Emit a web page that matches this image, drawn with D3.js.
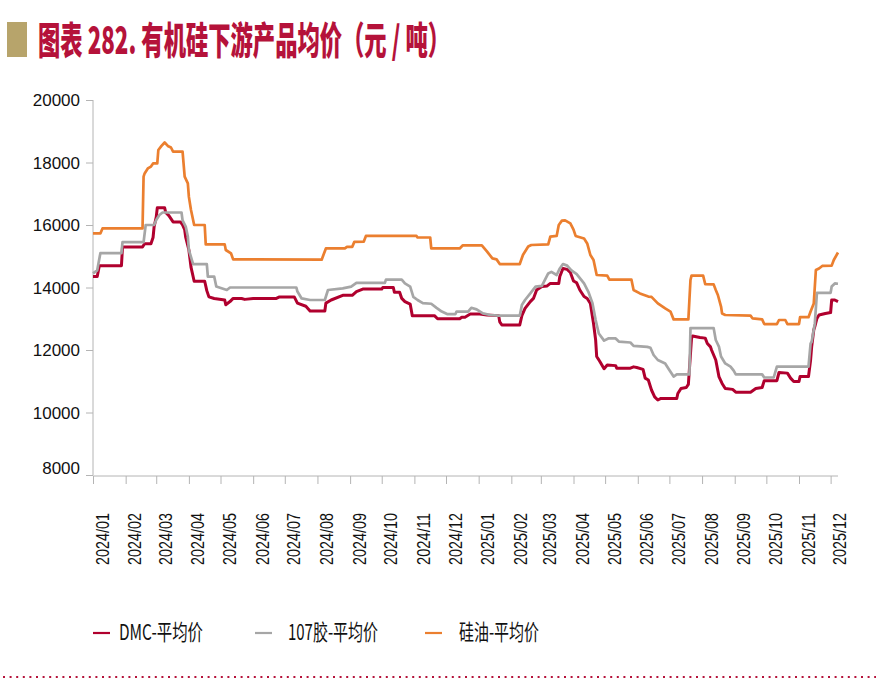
<!DOCTYPE html>
<html><head><meta charset="utf-8">
<script src="https://cdn.jsdelivr.net/npm/d3@7"></script>
<style>html,body{margin:0;padding:0;background:#fff;} svg{display:block}</style>
</head><body>
<svg id="chart" width="878" height="680"></svg>
<script>
const titleText = "图表 282. 有机硅下游产品均价（元 / 吨）";
const seriesNames = ["DMC-平均价", "107胶-平均价", "硅油-平均价"];
const monthLabels = ["2024/01","2024/02","2024/03","2024/04","2024/05","2024/06","2024/07","2024/08","2024/09","2024/10","2024/11","2024/12",
  "2025/01","2025/02","2025/03","2025/04","2025/05","2025/06","2025/07","2025/08","2025/09","2025/10","2025/11","2025/12"];
const yTicks = [8000, 10000, 12000, 14000, 16000, 18000, 20000];

// DMC-平均价
const dmcData = [
 ["2024-01-01",14350],["2024-01-05",14350],["2024-01-07",14700],["2024-01-28",14700],["2024-01-29",15300],
 ["2024-02-17",15300],["2024-02-19",15400],["2024-02-25",15400],["2024-02-27",15600],["2024-02-28",15950],
 ["2024-03-01",16250],["2024-03-02",16550],["2024-03-09",16550],["2024-03-10",16400],["2024-03-13",16300],
 ["2024-03-17",16100],["2024-03-24",16100],["2024-03-26",16000],["2024-03-28",15850],["2024-03-29",15600],
 ["2024-04-01",15200],["2024-04-03",14650],["2024-04-06",14200],["2024-04-16",14200],["2024-04-18",13900],
 ["2024-04-20",13700],["2024-04-25",13650],["2024-05-05",13600],["2024-05-06",13450],["2024-05-10",13550],
 ["2024-05-13",13650],["2024-05-21",13650],["2024-05-24",13620],["2024-06-01",13650],["2024-06-23",13650],
 ["2024-06-26",13700],["2024-07-10",13700],["2024-07-13",13500],["2024-07-21",13400],["2024-07-25",13250],
 ["2024-08-08",13250],["2024-08-09",13500],["2024-08-14",13600],["2024-08-25",13750],["2024-09-03",13750],
 ["2024-09-07",13870],["2024-09-13",13950],["2024-10-01",13950],["2024-10-02",14000],["2024-10-12",14000],
 ["2024-10-13",13850],["2024-10-18",13850],["2024-10-20",13650],["2024-10-23",13550],["2024-10-28",13470],
 ["2024-10-30",13100],["2024-11-20",13100],["2024-11-23",13000],["2024-12-14",13000],["2024-12-16",13050],
 ["2024-12-19",13050],["2024-12-24",13150],["2025-01-02",13150],["2025-01-09",13120],["2025-01-20",13100],
 ["2025-01-21",12900],["2025-01-23",12800],["2025-02-09",12800],["2025-02-11",13100],["2025-02-14",13330],
 ["2025-02-19",13550],["2025-02-22",13650],["2025-02-25",13920],["2025-03-02",14030],["2025-03-07",14050],
 ["2025-03-10",14130],["2025-03-18",14130],["2025-03-19",14350],["2025-03-22",14610],["2025-03-26",14580],
 ["2025-03-29",14480],["2025-04-01",14210],["2025-04-04",14150],["2025-04-07",13920],["2025-04-11",13710],
 ["2025-04-14",13650],["2025-04-17",13490],["2025-04-20",12850],["2025-04-22",12320],["2025-04-23",11790],
 ["2025-04-26",11630],["2025-04-30",11400],["2025-05-03",11520],["2025-05-11",11500],["2025-05-12",11420],
 ["2025-05-25",11420],["2025-05-28",11460],["2025-05-31",11440],["2025-06-06",11380],["2025-06-08",11100],
 ["2025-06-11",11040],["2025-06-14",10720],["2025-06-17",10500],["2025-06-20",10400],["2025-06-23",10450],
 ["2025-07-08",10450],["2025-07-09",10610],["2025-07-12",10770],["2025-07-17",10800],["2025-07-19",10900],
 ["2025-07-22",12370],["2025-07-23",12450],["2025-07-30",12400],["2025-08-04",12380],["2025-08-06",12210],
 ["2025-08-09",12100],["2025-08-10",12000],["2025-08-14",11680],["2025-08-17",11150],["2025-08-20",10930],
 ["2025-08-23",10770],["2025-08-30",10740],["2025-09-02",10650],["2025-09-16",10650],["2025-09-21",10770],
 ["2025-09-27",10800],["2025-09-29",11020],["2025-10-11",11020],["2025-10-13",11280],["2025-10-21",11260],
 ["2025-10-24",11100],["2025-10-27",10990],["2025-11-01",10990],["2025-11-02",11150],["2025-11-10",11150],
 ["2025-11-12",11680],["2025-11-13",12100],["2025-11-15",12640],["2025-11-16",12750],["2025-11-18",13010],
 ["2025-11-20",13120],["2025-11-26",13170],["2025-12-01",13200],["2025-12-02",13600],["2025-12-05",13600],
 ["2025-12-08",13550]
];

// 107胶-平均价
const glueData = [
 ["2024-01-01",14450],["2024-01-05",14550],["2024-01-08",15100],["2024-01-28",15100],["2024-01-29",15450],
 ["2024-02-18",15450],["2024-02-20",16000],["2024-02-28",16000],["2024-03-01",16160],["2024-03-04",16320],
 ["2024-03-07",16400],["2024-03-25",16400],["2024-03-26",16150],["2024-03-29",15950],["2024-03-31",15630],
 ["2024-04-01",15200],["2024-04-05",14750],["2024-04-18",14750],["2024-04-19",14350],["2024-04-25",14350],
 ["2024-04-27",14030],["2024-05-07",13920],["2024-05-10",14000],["2024-07-12",14000],["2024-07-13",13870],
 ["2024-07-17",13650],["2024-07-25",13600],["2024-08-08",13600],["2024-08-11",13920],["2024-08-25",13970],
 ["2024-09-02",14030],["2024-09-07",14150],["2024-10-04",14150],["2024-10-05",14250],["2024-10-20",14250],
 ["2024-10-23",14130],["2024-10-28",14030],["2024-10-31",13700],["2024-11-04",13600],["2024-11-09",13500],
 ["2024-11-17",13480],["2024-11-22",13350],["2024-11-27",13230],["2024-12-02",13150],["2024-12-10",13150],
 ["2024-12-11",13230],["2024-12-22",13230],["2024-12-25",13350],["2024-12-30",13300],["2025-01-05",13170],
 ["2025-01-12",13120],["2025-01-20",13100],["2025-02-09",13100],["2025-02-11",13440],["2025-02-14",13600],
 ["2025-02-19",13810],["2025-02-24",14030],["2025-03-02",14050],["2025-03-05",14250],["2025-03-08",14450],
 ["2025-03-11",14500],["2025-03-16",14400],["2025-03-19",14610],["2025-03-22",14750],["2025-03-26",14700],
 ["2025-03-30",14550],["2025-04-04",14430],["2025-04-11",14130],["2025-04-15",13870],["2025-04-19",13500],
 ["2025-04-22",12960],["2025-04-25",12530],["2025-04-30",12300],["2025-05-04",12370],["2025-05-11",12370],
 ["2025-05-14",12270],["2025-05-25",12240],["2025-05-28",12130],["2025-06-10",12100],["2025-06-13",12070],
 ["2025-06-16",11840],["2025-06-20",11680],["2025-06-27",11570],["2025-06-30",11410],["2025-07-05",11150],
 ["2025-07-08",11220],["2025-07-20",11220],["2025-07-21",12700],["2025-08-12",12700],["2025-08-14",12320],
 ["2025-08-17",12110],["2025-08-19",11790],["2025-08-23",11570],["2025-08-28",11470],["2025-08-31",11340],
 ["2025-09-02",11220],["2025-09-27",11220],["2025-09-29",11120],["2025-10-08",11120],["2025-10-11",11470],
 ["2025-11-10",11470],["2025-11-12",12210],["2025-11-13",12260],["2025-11-16",12850],["2025-11-18",13830],
 ["2025-12-01",13830],["2025-12-02",14030],["2025-12-05",14130],["2025-12-08",14120]
];

// 硅油-平均价
const oilData = [
 ["2024-01-01",15730],["2024-01-08",15730],["2024-01-10",15890],["2024-02-17",15890],["2024-02-18",17550],
 ["2024-02-19",17650],["2024-02-22",17810],["2024-02-25",17870],["2024-02-27",17970],["2024-03-02",17970],
 ["2024-03-03",18400],["2024-03-06",18530],["2024-03-09",18640],["2024-03-12",18530],["2024-03-15",18480],
 ["2024-03-17",18350],["2024-03-26",18350],["2024-03-28",17550],["2024-03-31",17330],["2024-04-01",16900],
 ["2024-04-03",16480],["2024-04-06",16000],["2024-04-16",16000],["2024-04-17",15380],["2024-05-05",15380],
 ["2024-05-06",15200],["2024-05-11",15090],["2024-05-13",14900],["2024-08-05",14890],["2024-08-09",15250],
 ["2024-08-27",15250],["2024-08-29",15300],["2024-09-03",15300],["2024-09-05",15460],["2024-09-14",15470],
 ["2024-09-16",15650],["2024-11-03",15650],["2024-11-04",15600],["2024-11-16",15600],["2024-11-17",15250],
 ["2024-12-14",15250],["2024-12-17",15350],["2025-01-04",15350],["2025-01-09",15150],["2025-01-14",14930],
 ["2025-01-18",14900],["2025-01-21",14750],["2025-02-09",14750],["2025-02-12",15040],["2025-02-17",15310],
 ["2025-02-20",15360],["2025-03-08",15380],["2025-03-10",15630],["2025-03-16",15650],["2025-03-18",16000],
 ["2025-03-21",16140],["2025-03-24",16150],["2025-03-29",16050],["2025-04-01",15850],["2025-04-03",15650],
 ["2025-04-11",15570],["2025-04-14",15410],["2025-04-17",15040],["2025-04-20",14880],["2025-04-23",14400],
 ["2025-05-03",14380],["2025-05-05",14250],["2025-05-26",14250],["2025-05-28",13920],["2025-06-03",13810],
 ["2025-06-11",13710],["2025-06-14",13700],["2025-06-20",13490],["2025-06-27",13330],["2025-07-02",13230],
 ["2025-07-05",12980],["2025-07-19",12980],["2025-07-21",14240],["2025-07-22",14380],["2025-08-02",14380],
 ["2025-08-04",14110],["2025-08-12",14100],["2025-08-14",13920],["2025-08-16",13760],["2025-08-19",13390],
 ["2025-08-20",13170],["2025-08-23",13120],["2025-09-16",13100],["2025-09-18",13010],["2025-09-27",12980],
 ["2025-09-29",12830],["2025-10-11",12830],["2025-10-13",12960],["2025-10-19",12960],["2025-10-21",12830],
 ["2025-11-01",12830],["2025-11-02",13050],["2025-11-10",13050],["2025-11-12",13230],["2025-11-15",13490],
 ["2025-11-17",14560],["2025-11-20",14610],["2025-11-23",14690],["2025-12-02",14700],["2025-12-04",14880],
 ["2025-12-08",15120]
];

const colors = ["#B0002E", "#A6A6A6", "#EB7F2F"];

const svg = d3.select("#chart");
const parse = d3.timeParse("%Y-%m-%d");
const parseMonth = d3.timeParse("%Y/%m");

// Title
svg.append("rect").attr("x", 7).attr("y", 22).attr("width", 20).attr("height", 35).attr("fill", "#B7A46B");
svg.append("text").attr("x", 38).attr("y", 54)
  .attr("font-family", "'Noto Sans CJK SC', sans-serif").attr("font-weight", 900).attr("font-size", 38)
  .attr("fill", "#B5123A").attr("textLength", 412).attr("lengthAdjust", "spacingAndGlyphs")
  .text(titleText);

const x = d3.scaleTime().domain([parse("2024-01-01"), parse("2025-12-08")]).range([93, 838]);
const y = d3.scaleLinear().domain([8000, 20000]).range([475, 100]);
const axisColor = "#B4B4B4";

// Y axis
const yAxis = svg.append("g").attr("transform", "translate(93,0)")
  .call(d3.axisLeft(y).tickValues(yTicks).tickSize(7).tickPadding(6).tickFormat(d3.format("d")));
yAxis.select(".domain").attr("stroke", axisColor).attr("d", "M0,100V475");
yAxis.selectAll(".tick line").attr("stroke", axisColor);
yAxis.selectAll(".tick text").attr("font-family", "'Liberation Sans', Arial, sans-serif")
  .attr("font-size", 17).attr("fill", "#111")
  .attr("dy", d => d === 8000 ? "-0.1em" : "0.35em");

// X axis
const xAxis = svg.append("g").attr("transform", "translate(0,476)")
  .call(d3.axisBottom(x).tickValues(monthLabels.map(parseMonth)).tickSize(8).tickFormat(d3.timeFormat("%Y/%m")));
xAxis.select(".domain").attr("stroke", axisColor).attr("d", "M93,0H838");
xAxis.selectAll(".tick line").attr("stroke", axisColor);
xAxis.selectAll(".tick text")
  .attr("font-family", "'Liberation Sans', Arial, sans-serif")
  .attr("font-size", 18.5).attr("fill", "#111")
  .attr("textLength", 52).attr("lengthAdjust", "spacingAndGlyphs")
  .attr("text-anchor", "end").attr("dy", null).attr("y", null)
  .attr("transform", "translate(15,37) rotate(-90)");

// Lines
const line = d3.line().x(d => x(parse(d[0]))).y(d => y(d[1]));
[dmcData, glueData, oilData].forEach((data, i) => {
  svg.append("path").datum(data).attr("fill", "none")
    .attr("stroke", colors[i]).attr("stroke-width", i === 0 ? 3 : 2.7)
    .attr("stroke-linejoin", "round").attr("d", line);
});

// Legend
const legendPos = [{lx: 93, tx: 119, w: 84}, {lx: 255, tx: 288, w: 90}, {lx: 425, tx: 459, w: 80}];
seriesNames.forEach((name, i) => {
  const p = legendPos[i];
  svg.append("line").attr("x1", p.lx).attr("x2", p.lx + 17).attr("y1", 633).attr("y2", 633)
    .attr("stroke", colors[i]).attr("stroke-width", 2.2);
  svg.append("text").attr("x", p.tx).attr("y", 640)
    .attr("font-family", "'Noto Sans CJK SC', sans-serif").attr("font-size", 22).attr("fill", "#111")
    .attr("textLength", p.w).attr("lengthAdjust", "spacingAndGlyphs").text(name);
});

// Bottom dotted rule
svg.append("line").attr("x1", 3).attr("x2", 876).attr("y1", 677).attr("y2", 677)
  .attr("stroke", "#B5123A").attr("stroke-width", 2.2).attr("stroke-dasharray", "2 4.6");
</script>
</body></html>
